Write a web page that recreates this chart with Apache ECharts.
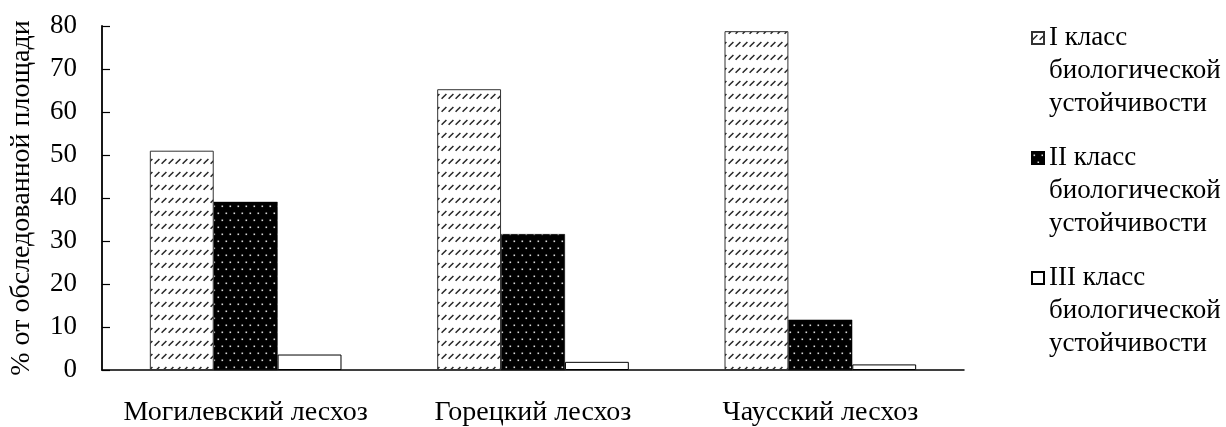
<!DOCTYPE html>
<html>
<head>
<meta charset="utf-8">
<script src="https://cdn.jsdelivr.net/npm/echarts@6/dist/echarts.min.js"></script>
<style>
  html, body { margin: 0; padding: 0; background: #fff; }
  #chart { width: 1226px; height: 427px; }
</style>
</head>
<body>
<div id="chart"></div>
<script>
// Forestry units (categories on the x axis)
const categories = ['Могилевский лесхоз', 'Горецкий лесхоз', 'Чаусский лесхоз'];
// Share of surveyed area by biological stability class, %
const class1 = [51.0, 65.3, 78.8];
const class2 = [39.1, 31.6, 11.7];
const class3 = [3.6, 1.9, 1.3];
const seriesNames = ['I класс', 'II класс', 'III класс'];
const legendSuffix = ['биологической', 'устойчивости'];
const yTicks = { min: 0, max: 80, interval: 10 };
const yAxisTitle = '% от обследованной площади';

const FONT = '"Liberation Serif", "Times New Roman", serif';
const LEGEND_LH = 33;

// Fill patterns: light diagonal dashes and black with white dots
function hatchPattern() {
  const c = document.createElement('canvas');
  c.width = 7; c.height = 13;
  const g = c.getContext('2d');
  g.fillStyle = '#fff';
  g.fillRect(0, 0, 7, 13);
  g.strokeStyle = '#262626';
  g.lineWidth = 1.5;
  g.beginPath();
  g.moveTo(0.6, 7.8);
  g.lineTo(5.4, 3.0);
  g.stroke();
  return c;
}
function dotPattern() {
  const c = document.createElement('canvas');
  c.width = 8; c.height = 14;
  const g = c.getContext('2d');
  g.fillStyle = '#000';
  g.fillRect(0, 0, 8, 14);
  g.fillStyle = '#d8d8d8';
  g.fillRect(1.5, 2.5, 1.6, 1.6);
  g.fillRect(5.5, 9.5, 1.6, 1.6);
  return c;
}

const chart = echarts.init(document.getElementById('chart'), null, { renderer: 'canvas' });

const itemStyles = [
  { color: { image: hatchPattern(), repeat: 'repeat' }, borderColor: '#333', borderWidth: 1 },
  { color: { image: dotPattern(), repeat: 'repeat' }, borderColor: '#000', borderWidth: 0.5 },
  { color: '#fff', borderColor: '#000', borderWidth: 1 }
];
const values = [class1, class2, class3];

chart.setOption({
  animation: false,
  backgroundColor: '#fff',
  textStyle: { fontFamily: FONT, color: '#000' },
  grid: { left: 100, right: 262, top: 26, bottom: 56, containLabel: false },
  legend: {
    orient: 'vertical',
    left: 1026,
    top: 38 - 5 - 2.5 * LEGEND_LH,
    itemWidth: 12,
    itemHeight: 12,
    itemGap: 120 - 5 * LEGEND_LH,
    icon: 'rect',
    // two leading blank lines keep the first text line level with the swatch
    formatter: function (name) { return '\n\n' + name + '\n' + legendSuffix.join('\n'); },
    textStyle: { fontFamily: FONT, fontSize: 27, color: '#000', lineHeight: LEGEND_LH },
    data: seriesNames
  },
  xAxis: {
    type: 'category',
    data: categories,
    axisLine: { lineStyle: { color: '#000', width: 1.5 } },
    axisTick: { show: false },
    axisLabel: { fontFamily: FONT, fontSize: 28, color: '#000', margin: 29, interval: 0 }
  },
  yAxis: {
    type: 'value',
    min: yTicks.min, max: yTicks.max, interval: yTicks.interval,
    name: yAxisTitle,
    nameLocation: 'middle',
    nameGap: 66,
    nameTextStyle: { fontFamily: FONT, fontSize: 28, color: '#000' },
    axisLine: { show: true, lineStyle: { color: '#000', width: 1.8 } },
    axisTick: { show: true, inside: true, length: 8, lineStyle: { color: '#000', width: 1.2 } },
    splitLine: { show: false },
    axisLabel: { fontFamily: FONT, fontSize: 27, color: '#000', margin: 25 }
  },
  series: seriesNames.map(function (n, i) {
    return {
      name: n,
      type: 'bar',
      data: values[i],
      barGap: '0%',
      barCategoryGap: '33.3%',
      itemStyle: itemStyles[i]
    };
  })
});
</script>
</body>
</html>
